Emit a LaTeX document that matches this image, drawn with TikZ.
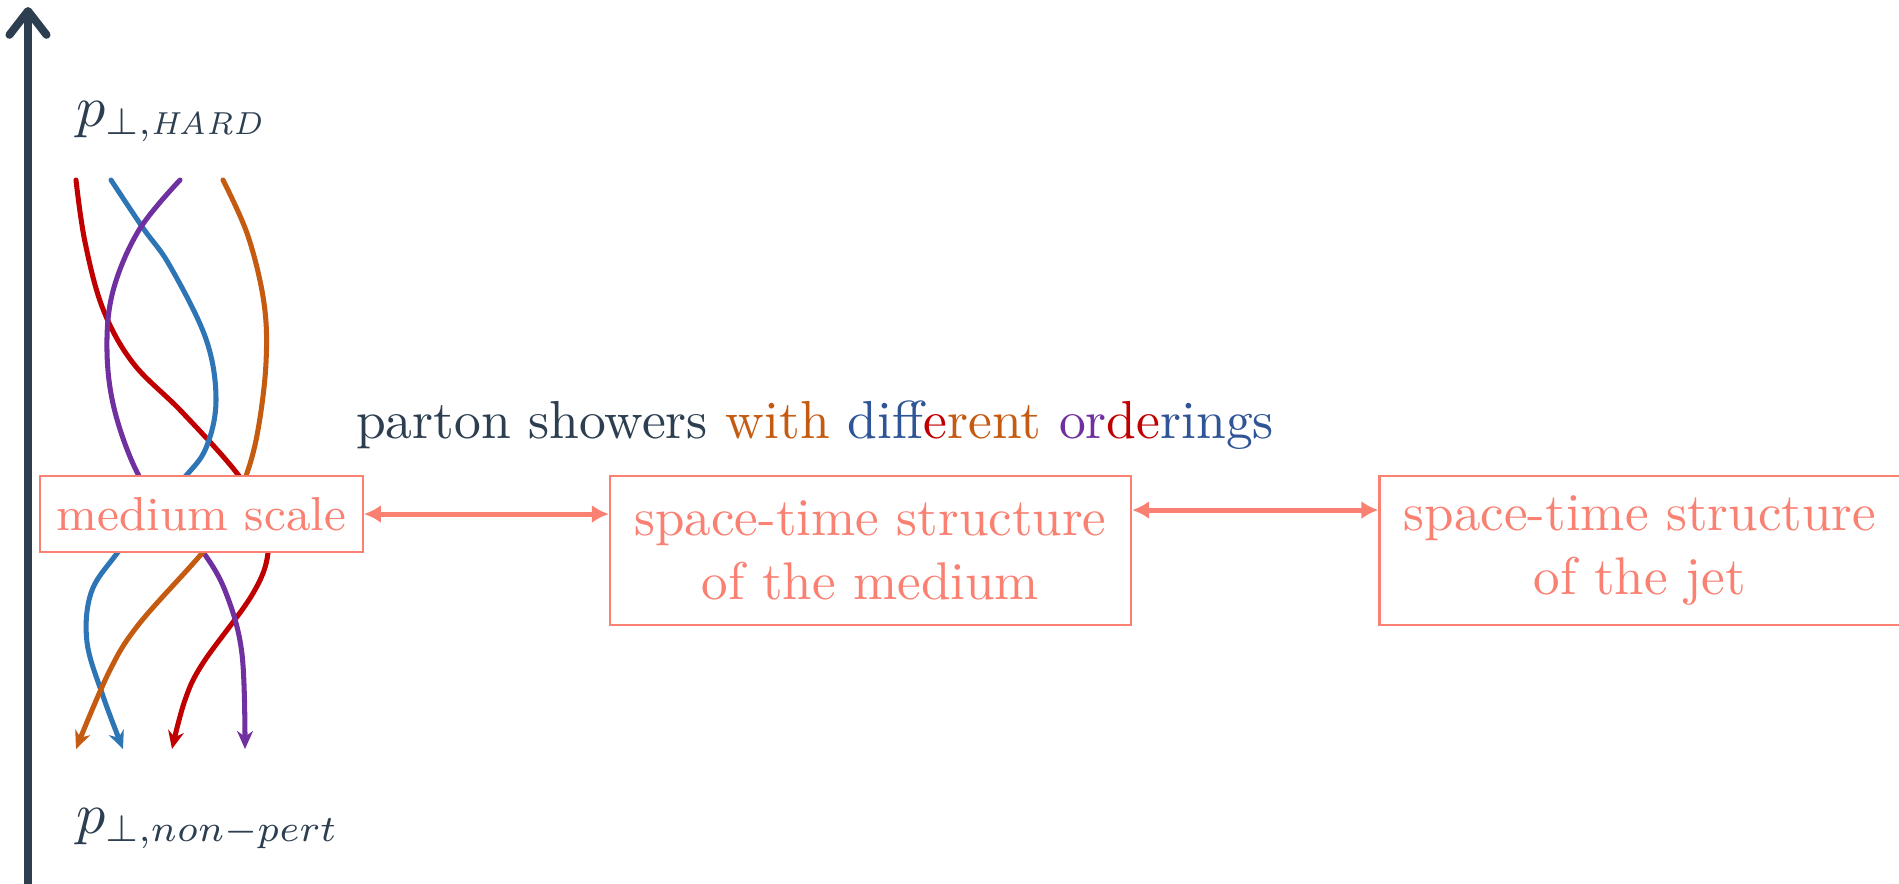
\documentclass[tikz,border=0pt]{standalone}
\usepackage{amsmath}
\usepackage{amssymb}
\usepackage{tikz}
\usetikzlibrary{arrows.meta}
\DeclareMathSizes{11}{11}{7}{5}
\definecolor{slate}{RGB}{44,62,80}
\definecolor{salmon}{RGB}{250,128,114}
\definecolor{pred}{RGB}{192,0,0}
\definecolor{pblue}{RGB}{46,117,182}
\definecolor{tblue}{RGB}{47,85,151}
\definecolor{ppurple}{RGB}{112,48,160}
\definecolor{porange}{RGB}{197,90,17}
\tikzstyle{axis} = [slate, line width=1.5pt, line cap=round,
    -{Straight Barb[length=4.5pt, width=7pt, round]}]
\tikzstyle{parton} = [line width=0.95pt, line cap=round,
    -{Stealth[length=3.4pt, width=3pt]}]
\tikzstyle{scalebox} = [draw=salmon, fill=white, text=salmon, font=\small,
    rectangle, minimum width=60.9pt, minimum height=14.3pt, inner sep=2pt]
\tikzstyle{structbox} = [draw=salmon, fill=white, text=salmon, align=center,
    rectangle, minimum width=98.3pt, minimum height=28.1pt, inner sep=2pt]
\tikzstyle{link} = [salmon, line width=0.95pt,
    {Latex[length=3.2pt, width=3.4pt]}-{Latex[length=3.2pt, width=3.4pt]}]
\tikzstyle{scalelabel} = [text=slate, anchor=base west, inner sep=0pt,
    font=\fontsize{11}{13}\selectfont]

\begin{document}
\begin{tikzpicture}[x=0.0663mm, y=-0.0663mm]
                \useasboundingbox (0,0) rectangle (1899,883);
                % momentum axis
                \coordinate (axbot) at (28,900);
                \coordinate (axtop) at (28,7);
                \draw[axis] (axbot) -- (axtop);
                \node[scalelabel] (hard) at (75,126) {$p_{\perp,\text{\fontsize{6}{7}\selectfont\itshape HARD}}$};
                \node[scalelabel] (nonpert) at (75,833) {$p_{\perp,non-pert}$};

                % the showers
                \coordinate (r0) at (76,180);   \coordinate (r1) at (172,749);
                \coordinate (b0) at (111,180);  \coordinate (b1) at (123,749);
                \coordinate (v0) at (180,180);  \coordinate (v1) at (245,749);
                \coordinate (o0) at (223,180);  \coordinate (o1) at (76,749);
                \draw[parton, pred] plot[smooth, tension=0.6] coordinates {(r0) (85,242) (103,309) (133,363) (182,412) (236,472) (262,515) (268,553) (252,595) (203,663) (185,700) (r1)};
                \draw[parton, pblue] plot[smooth, tension=0.6] coordinates {(b0) (143,228) (170,266) (206,339) (216,400) (206,448) (184,478) (150,515) (115,556) (91,593) (87,642) (103,696) (b1)};
                \draw[parton, ppurple] plot[smooth, tension=0.6] coordinates {(v0) (139,230) (113,291) (107,351) (115,412) (139,476) (170,515) (203,552) (226,593) (242,654) (v1)};
                \draw[parton, porange] plot[smooth, tension=0.6] coordinates {(o0) (248,236) (264,303) (266,363) (258,430) (246,476) (228,515) (203,552) (139,624) (109,672) (o1)};

                \node[anchor=base west, text=slate, inner sep=0pt, font=\fontsize{10.1}{12}\selectfont] (title) at (355,438) {parton showers
                    \textcolor{porange}{with} \textcolor{tblue}{diff}\textcolor{pred}{e}\textcolor{porange}{rent}
                    \textcolor{ppurple}{or}\textcolor{pred}{de}\textcolor{tblue}{rings}};

                \node[scalebox] (ms) at (201.5,514) {medium scale};
                \node[structbox] (stmed) at (870.5,550.5) {space-time structure\\of the medium};
                \node[structbox] (stjet) at (1640,550.5) {space-time structure\\of the jet};
                \draw[link] (ms.east) -- (ms.east -| stmed.west);
                \draw[link] ([yshift=0.75pt]stmed.east |- ms.east) -- ([yshift=0.75pt]stjet.west |- ms.east);
            \end{tikzpicture}
\end{document}
